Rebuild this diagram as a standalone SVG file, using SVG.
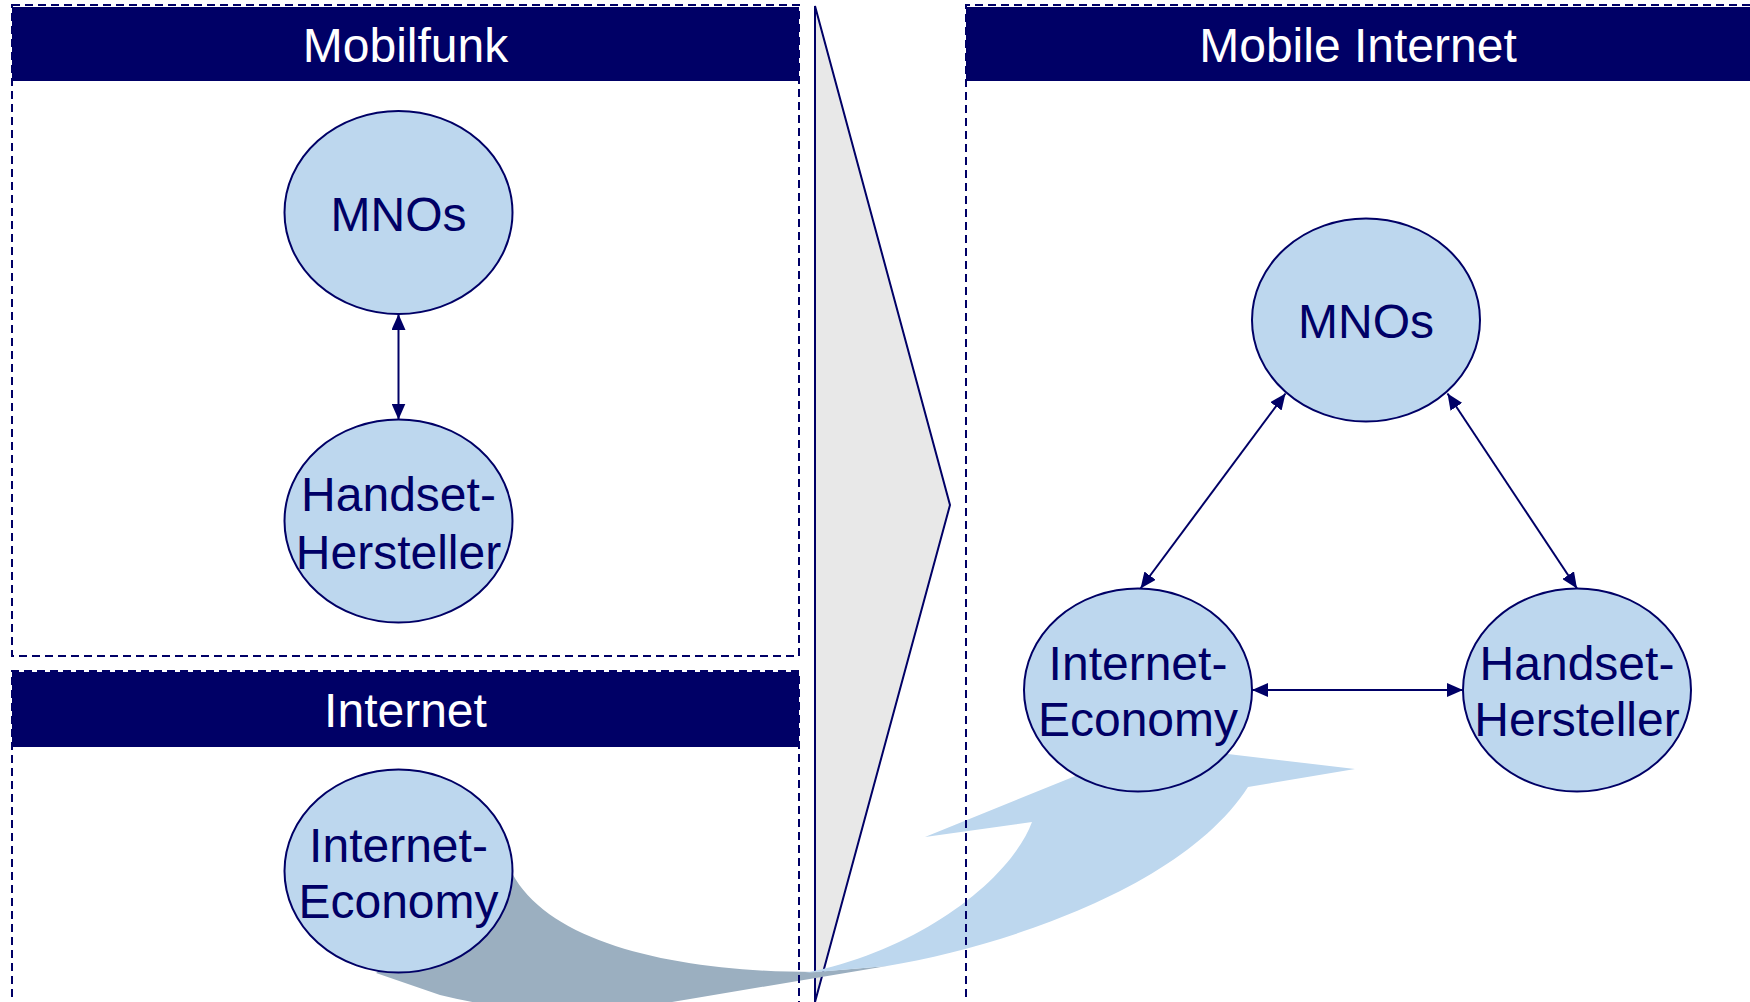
<svg xmlns="http://www.w3.org/2000/svg" width="1750" height="1002" viewBox="0 0 1750 1002">
<defs>
<marker id="ah" viewBox="0 0 16 14" refX="16" refY="7" markerWidth="16" markerHeight="14" markerUnits="userSpaceOnUse" orient="auto-start-reverse">
<path d="M0,0 L16,7 L0,14 Z" fill="#000066"/>
</marker>
</defs>
<style>
.panel{fill:none;stroke:#000066;stroke-width:2;stroke-dasharray:8 5}
.hdr{fill:#000066}
.htxt{font-family:"Liberation Sans",Arial,sans-serif;font-size:48px;fill:#ffffff;text-anchor:middle}
.node ellipse{fill:#BDD7EE;stroke:#000066;stroke-width:2}
.node text{font-family:"Liberation Sans",Arial,sans-serif;font-size:48px;fill:#000066;text-anchor:middle}
.conn{stroke:#000066;stroke-width:2;fill:none;marker-start:url(#ah);marker-end:url(#ah)}
</style>
<rect width="1750" height="1002" fill="#ffffff"/>

<g id="chevron">
<path d="M815 6 L950 505 L815 1002 Z" fill="#E8E8E8" stroke="#000066" stroke-width="2" stroke-linejoin="miter"/>
</g>

<g id="transition-arrow">
<path d="M512 873 C550 945 680 972 815 972 L887 966 L690 999 C600 1015 520 1015 440 995 L376 973 Z" fill="#9BAFC0"/>
<path d="M805 973 L887 966 C1010 945 1185 885 1248 787 L1355 769 L1152 745 L925 837 L1032 822 C1010 880 920 950 805 973 Z" fill="#BDD7EE"/>
</g>

<g id="panel-mobilfunk">
<rect class="hdr" x="12" y="7" width="787" height="74"/>
<rect class="panel" x="12" y="5" width="787" height="651"/>
<text class="htxt" x="405.5" y="62">Mobilfunk</text>
</g>
<g id="panel-internet">
<rect class="hdr" x="12" y="672" width="787" height="75"/>
<path class="panel" d="M12 1010 L12 671 L799 671 L799 1010"/>
<text class="htxt" x="405.5" y="727">Internet</text>
</g>
<g id="panel-mobile-internet">
<rect class="hdr" x="966" y="7" width="790" height="74"/>
<path class="panel" d="M966 1010 L966 5 L1760 5"/>
<text class="htxt" x="1358" y="62">Mobile Internet</text>
</g>

<g id="connectors">
<line class="conn" x1="398.5" y1="314" x2="398.5" y2="419.5"/>
<line class="conn" x1="1285.5" y1="393.5" x2="1140.5" y2="588.5"/>
<line class="conn" x1="1447.5" y1="393.5" x2="1577" y2="588.5"/>
<line class="conn" x1="1252" y1="690" x2="1463" y2="690"/>
</g>

<g id="node-mnos-left" class="node">
<ellipse cx="398.5" cy="212.5" rx="114" ry="101.5"/>
<text x="398.5" y="231">MNOs</text>
</g>
<g id="node-handset-left" class="node">
<ellipse cx="398.5" cy="521" rx="114" ry="101.5"/>
<text x="398.5" y="511">Handset-</text>
<text x="398.5" y="569">Hersteller</text>
</g>
<g id="node-ie-left" class="node">
<ellipse cx="398.5" cy="871" rx="114" ry="101.5"/>
<text x="398.5" y="862">Internet-</text>
<text x="398.5" y="918">Economy</text>
</g>
<g id="node-mnos-right" class="node">
<ellipse cx="1366" cy="320" rx="114" ry="101.5"/>
<text x="1366" y="338">MNOs</text>
</g>
<g id="node-ie-right" class="node">
<ellipse cx="1138" cy="690" rx="114" ry="101.5"/>
<text x="1138" y="680">Internet-</text>
<text x="1138" y="736">Economy</text>
</g>
<g id="node-handset-right" class="node">
<ellipse cx="1577" cy="690" rx="114" ry="101.5"/>
<text x="1577" y="680">Handset-</text>
<text x="1577" y="736">Hersteller</text>
</g>
</svg>
